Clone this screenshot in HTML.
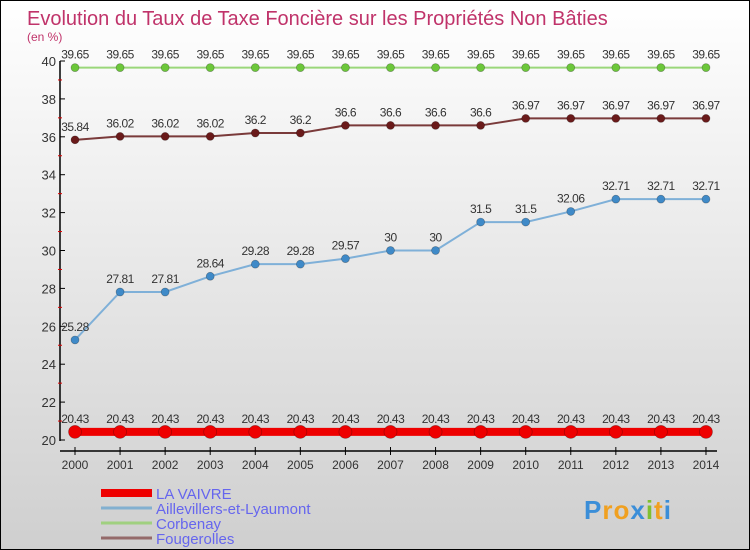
<!DOCTYPE html>
<html><head><meta charset="utf-8"><style>
body{margin:0}
#c{width:748px;height:548px;border:1px solid #000;background:linear-gradient(#ffffff,#cfcfcf);position:relative;overflow:hidden;font-family:"Liberation Sans",sans-serif}
svg{position:absolute;left:0;top:0}
</style></head><body>
<div id="c">
<svg id="s" width="748" height="548"></svg>
</div>
<script>
const years=[2000,2001,2002,2003,2004,2005,2006,2007,2008,2009,2010,2011,2012,2013,2014];
const laVaivre=[20.43,20.43,20.43,20.43,20.43,20.43,20.43,20.43,20.43,20.43,20.43,20.43,20.43,20.43,20.43];
const aillevillers=[25.28,27.81,27.81,28.64,29.28,29.28,29.57,30,30,31.5,31.5,32.06,32.71,32.71,32.71];
const corbenay=[39.65,39.65,39.65,39.65,39.65,39.65,39.65,39.65,39.65,39.65,39.65,39.65,39.65,39.65,39.65];
const fougerolles=[35.84,36.02,36.02,36.02,36.2,36.2,36.6,36.6,36.6,36.6,36.97,36.97,36.97,36.97,36.97];
const yTicks=[20,22,24,26,28,30,32,34,36,38,40];
const seriesNames=["LA VAIVRE","Aillevillers-et-Lyaumont","Corbenay","Fougerolles"];

const s=document.getElementById('s');const NS="http://www.w3.org/2000/svg";
function el(t,a,txt){const e=document.createElementNS(NS,t);for(const k in a)e.setAttribute(k,a[k]);if(txt!==undefined)e.textContent=txt;s.appendChild(e);return e;}
const x=i=>74+i*45.07;
const y=v=>439-(v-20)*18.95;

let t=el('text',{x:26,y:24,'font-size':20,fill:'#c0336a'},'Evolution du Taux de Taxe Foncière sur les Propriétés Non Bâties');

t=el('text',{x:26,y:40,'font-size':12,fill:'#c0336a'},'(en %)');


let ax=el('line',{x1:59,y1:60,x2:59,y2:440,stroke:'#000','stroke-width':1.5});

yTicks.forEach(v=>{
  el('line',{x1:59,x2:64,y1:y(v),y2:y(v),stroke:'#000'});
  if(v<40){el('line',{x1:57,x2:61,y1:y(v+1),y2:y(v+1),stroke:'#d00'});}
  const l=el('text',{x:55,y:y(v)+5,'font-size':13,'text-anchor':'end',fill:'#333'},v);
  
});
ax=el('line',{x1:59,y1:450,x2:716,y2:450,stroke:'#000','stroke-width':1.5});

years.forEach((yr,i)=>{
  el('line',{x1:x(i),x2:x(i),y1:446,y2:454,stroke:'#000'});
  const l=el('text',{x:x(i),y:468,'font-size':12,'text-anchor':'middle',fill:'#333'},yr);
  
});

function series(data,color,dot,w,r,name){
  const p=el('polyline',{points:data.map((v,i)=>x(i)+','+y(v)).join(' '),fill:'none',stroke:color,'stroke-width':w});
  
  data.forEach((v,i)=>{
    const c=el('circle',{cx:x(i),cy:y(v),r:r,fill:dot,stroke:'rgba(0,0,0,0.3)','stroke-width':0.7});
    
    const l=el('text',{x:x(i),y:y(v)-9,'font-size':12,'text-anchor':'middle',fill:'#333','letter-spacing':'-0.5'},v);
    
  });
}
series(corbenay,'#9ad77a','#6cc73a',2,4,'corbenay');
series(fougerolles,'#7a3a3a','#6a1a1a',2,4,'fougerolles');
series(aillevillers,'#7fb0d8','#3f8ac8',2,4,'aillevillers');
series(laVaivre,'#ee0000','#ee0000',8,6.5,'la-vaivre');

const lc=['#ee0000','#82b0d0','#a0d080','#946a6a'],lw=[8,3,3,3];
seriesNames.forEach((n,i)=>{
  const yy=492+i*15;
  const l=el('line',{x1:100,x2:151,y1:yy,y2:yy,stroke:lc[i],'stroke-width':lw[i]});
  
  const tx=el('text',{x:155,y:yy+6,'font-size':15,fill:'#6666ee'},n);
  
});
const logo=el('text',{x:583,y:518,'font-size':26,'font-weight':'bold','letter-spacing':'1'});

[['P','#3b8ed8'],['ro','#f0a020'],['x','#3b8ed8'],['i','#80c030'],['t','#f0a020'],['i','#3b8ed8']].forEach(([c,f])=>{
  const sp=document.createElementNS(NS,'tspan');sp.setAttribute('fill',f);sp.textContent=c;logo.appendChild(sp);
});
</script>
</body></html>
